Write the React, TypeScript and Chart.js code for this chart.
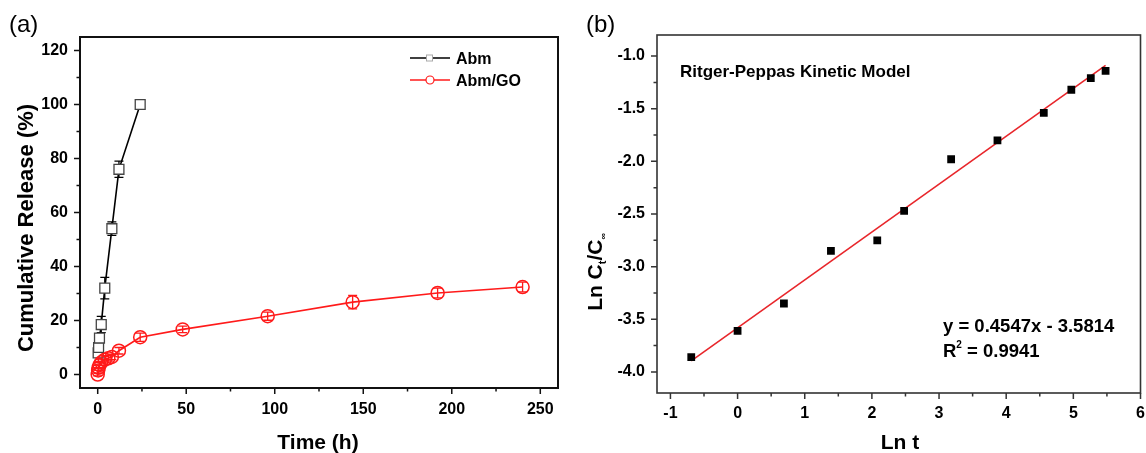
import React, { useEffect, useRef } from "react";
import { Chart, registerables } from "chart.js";

Chart.register(...registerables);

const FONT = "'Liberation Sans', Arial, Helvetica, sans-serif";

// ---------- Panel (a): cumulative release ----------
const seriesNames = ["Abm", "Abm/GO"];
const abmTime = [0.25, 0.5, 1, 2, 4, 8, 12, 24];
const abmRelease = [8, 10, 13.5, 18.5, 32, 54, 76, 100];
const abmError = [1.2, 1.2, 1.5, 3, 4, 2.5, 3, 0.5];
const goTime = [0, 0.25, 0.5, 1, 2, 4, 6, 8, 12, 24, 48, 96, 144, 192, 240];
const goRelease = [0, 1.5, 2.5, 3.5, 4.5, 5.5, 6, 6.5, 8.8, 13.8, 16.7, 21.6, 26.8, 30.2, 32.4];
const goError = [0.5, 1, 1, 1, 1.2, 1.2, 1, 1, 1.2, 1.5, 1.2, 1.5, 2.5, 1.8, 1.8];
const timeTicks = [0, 50, 100, 150, 200, 250];
const timeMinorTicks = [25, 75, 125, 175, 225];
const releaseTicks = [0, 20, 40, 60, 80, 100, 120];
const releaseMinorTicks = [10, 30, 50, 70, 90, 110];

// ---------- Panel (b): Ritger-Peppas ----------
const lnT = [-0.69, 0, 0.69, 1.39, 2.08, 2.48, 3.18, 3.87, 4.56, 4.97, 5.26, 5.48];
const lnRatio = [-3.86, -3.61, -3.35, -2.85, -2.75, -2.47, -1.98, -1.8, -1.54, -1.32, -1.21, -1.14];
const fitX = [-0.69, 5.48];
const fitY = [-3.895, -1.089];
const lnTTicks = [-1, 0, 1, 2, 3, 4, 5, 6];
const lnTMinorTicks = [-0.5, 0.5, 1.5, 2.5, 3.5, 4.5, 5.5];
const lnRatioTicks = [-4.0, -3.5, -3.0, -2.5, -2.0, -1.5, -1.0];
const lnRatioMinorTicks = [-3.75, -3.25, -2.75, -2.25, -1.75, -1.25];

type Part = { t: string; size: number; dy?: number; bold?: boolean };

function drawParts(ctx: CanvasRenderingContext2D, parts: Part[], x: number, y: number, align: "left" | "center") {
  let w = 0;
  for (const p of parts) {
    ctx.font = `${p.bold === false ? "" : "bold "}${p.size}px ${FONT}`;
    w += ctx.measureText(p.t).width;
  }
  let cx = align === "center" ? x - w / 2 : x;
  ctx.textAlign = "left";
  ctx.textBaseline = "alphabetic";
  for (const p of parts) {
    ctx.font = `${p.bold === false ? "" : "bold "}${p.size}px ${FONT}`;
    ctx.fillText(p.t, cx, y + (p.dy || 0));
    cx += ctx.measureText(p.t).width;
  }
}

type PanelCfg = {
  xMajor: number[];
  xMinor: number[];
  yMajor: number[];
  yMinor: number[];
  frameWidth: number;
  frameColor: string;
  errors?: { dataset: number; err: number[]; color: string }[];
  extra: (ctx: CanvasRenderingContext2D, chart: any) => void;
};

function panelPlugin(cfg: PanelCfg) {
  return {
    id: "panelDecor",
    beforeDatasetsDraw(chart: any) {
      if (!cfg.errors) return;
      const ctx = chart.ctx as CanvasRenderingContext2D;
      const xs = chart.scales.x;
      const ys = chart.scales.y;
      ctx.save();
      for (const e of cfg.errors) {
        const data = chart.data.datasets[e.dataset].data as { x: number; y: number }[];
        ctx.strokeStyle = e.color;
        ctx.lineWidth = 1.3;
        data.forEach((d, i) => {
          const px = xs.getPixelForValue(d.x);
          const y1 = ys.getPixelForValue(d.y - e.err[i]);
          const y2 = ys.getPixelForValue(d.y + e.err[i]);
          ctx.beginPath();
          ctx.moveTo(px, y1);
          ctx.lineTo(px, y2);
          ctx.moveTo(px - 4.5, y1);
          ctx.lineTo(px + 4.5, y1);
          ctx.moveTo(px - 4.5, y2);
          ctx.lineTo(px + 4.5, y2);
          ctx.stroke();
        });
      }
      ctx.restore();
    },
    afterDraw(chart: any) {
      const ctx = chart.ctx as CanvasRenderingContext2D;
      const a = chart.chartArea;
      const xs = chart.scales.x;
      const ys = chart.scales.y;
      ctx.save();
      ctx.strokeStyle = cfg.frameColor;
      ctx.lineWidth = cfg.frameWidth;
      ctx.strokeRect(a.left, a.top, a.right - a.left, a.bottom - a.top);
      ctx.lineWidth = 1.5;
      ctx.beginPath();
      for (const v of cfg.xMajor) {
        const p = xs.getPixelForValue(v);
        ctx.moveTo(p, a.bottom);
        ctx.lineTo(p, a.bottom + 6);
      }
      for (const v of cfg.xMinor) {
        const p = xs.getPixelForValue(v);
        ctx.moveTo(p, a.bottom);
        ctx.lineTo(p, a.bottom + 3.5);
      }
      for (const v of cfg.yMajor) {
        const p = ys.getPixelForValue(v);
        ctx.moveTo(a.left, p);
        ctx.lineTo(a.left - 6, p);
      }
      for (const v of cfg.yMinor) {
        const p = ys.getPixelForValue(v);
        ctx.moveTo(a.left, p);
        ctx.lineTo(a.left - 3.5, p);
      }
      ctx.stroke();
      ctx.fillStyle = "#000";
      cfg.extra(ctx, chart);
      ctx.restore();
    },
  };
}

function tickFont() {
  return { family: FONT, size: 16, weight: "bold" as const };
}

function makeScales(
  xMin: number, xMax: number, xTicks: number[], xHeight: number, xPad: number,
  yMin: number, yMax: number, yTicks: number[], yWidth: number, yPad: number,
  yFmt: (v: number) => string
) {
  return {
    x: {
      type: "linear" as const,
      min: xMin,
      max: xMax,
      afterBuildTicks: (s: any) => {
        s.ticks = xTicks.map((v) => ({ value: v }));
      },
      afterFit: (s: any) => {
        s.height = xHeight;
        s.paddingLeft = 0;
        s.paddingRight = 0;
      },
      grid: { display: false, drawTicks: false },
      border: { display: false },
      ticks: { padding: xPad, color: "#000", font: tickFont(), maxRotation: 0, autoSkip: false },
    },
    y: {
      type: "linear" as const,
      min: yMin,
      max: yMax,
      afterBuildTicks: (s: any) => {
        s.ticks = yTicks.map((v) => ({ value: v }));
      },
      afterFit: (s: any) => {
        s.width = yWidth;
        s.paddingTop = 0;
        s.paddingBottom = 0;
      },
      grid: { display: false, drawTicks: false },
      border: { display: false },
      ticks: {
        padding: yPad,
        color: "#000",
        font: tickFont(),
        autoSkip: false,
        callback: (v: any) => yFmt(Number(v)),
      },
    },
  };
}

function PanelA() {
  const ref = useRef<HTMLCanvasElement>(null);
  useEffect(() => {
    if (!ref.current) return;
    const chart = new Chart(ref.current, {
      type: "scatter",
      data: {
        datasets: [
          {
            label: seriesNames[1],
            data: goTime.map((t, i) => ({ x: t, y: goRelease[i] })),
            showLine: true,
            borderColor: "#ff1a1a",
            borderWidth: 1.6,
            pointStyle: "circle",
            pointRadius: 6.5,
            pointBorderWidth: 1.5,
            pointBorderColor: "#ff1a1a",
            pointBackgroundColor: "rgba(255,255,255,0)",
          },
          {
            label: seriesNames[0],
            data: abmTime.map((t, i) => ({ x: t, y: abmRelease[i] })),
            showLine: true,
            borderColor: "#000",
            borderWidth: 1.6,
            pointStyle: "rect",
            pointRadius: 7,
            pointBorderWidth: 1.3,
            pointBorderColor: "#444",
            pointBackgroundColor: "#fff",
          },
        ],
      },
      options: {
        responsive: false,
        animation: false,
        devicePixelRatio: 1,
        layout: { padding: { left: 0, right: 15, top: 37, bottom: 0 } },
        plugins: { legend: { display: false }, tooltip: { enabled: false } },
        scales: makeScales(-10, 260, timeTicks, 65, 12, -5, 125, releaseTicks, 80, 12, (v) => String(v)) as any,
      },
      plugins: [
        panelPlugin({
          xMajor: timeTicks,
          xMinor: timeMinorTicks,
          yMajor: releaseTicks,
          yMinor: releaseMinorTicks,
          frameWidth: 2,
          frameColor: "#111",
          errors: [
            { dataset: 1, err: abmError, color: "#000" },
            { dataset: 0, err: goError, color: "#ff1a1a" },
          ],
          extra: (ctx) => {
            // panel label
            ctx.font = `24px ${FONT}`;
            ctx.textAlign = "left";
            ctx.textBaseline = "middle";
            ctx.fillText("(a)", 9, 25);
            // axis titles
            drawParts(ctx, [{ t: "Time (h)", size: 21 }], 318, 449, "center");
            ctx.save();
            ctx.translate(25, 228);
            ctx.rotate(-Math.PI / 2);
            drawParts(ctx, [{ t: "Cumulative Release (%)", size: 22 }], 0, 8, "center");
            ctx.restore();
            // legend
            const rows = [
              { name: seriesNames[0], y: 58, color: "#000", marker: "rect" },
              { name: seriesNames[1], y: 80, color: "#ff1a1a", marker: "circle" },
            ];
            for (const r of rows) {
              ctx.strokeStyle = r.color;
              ctx.lineWidth = 1.6;
              ctx.beginPath();
              ctx.moveTo(410, r.y);
              ctx.lineTo(450, r.y);
              ctx.stroke();
              ctx.fillStyle = "#fff";
              if (r.marker === "rect") {
                ctx.fillRect(426, r.y - 3.5, 7, 7);
                ctx.strokeStyle = "#aaa";
                ctx.lineWidth = 1;
                ctx.strokeRect(426.5, r.y - 3, 6, 6);
              } else {
                ctx.beginPath();
                ctx.arc(430, r.y, 4, 0, Math.PI * 2);
                ctx.fill();
                ctx.strokeStyle = r.color;
                ctx.lineWidth = 1.2;
                ctx.stroke();
              }
              ctx.fillStyle = "#000";
              drawParts(ctx, [{ t: r.name, size: 16 }], 456, r.y + 6, "left");
            }
          },
        }) as any,
      ],
    });
    return () => chart.destroy();
  }, []);
  return <canvas ref={ref} width={573} height={453} style={{ display: "block" }} />;
}

function PanelB() {
  const ref = useRef<HTMLCanvasElement>(null);
  useEffect(() => {
    if (!ref.current) return;
    const chart = new Chart(ref.current, {
      type: "scatter",
      data: {
        datasets: [
          {
            label: "data",
            data: lnT.map((x, i) => ({ x, y: lnRatio[i] })),
            showLine: false,
            pointStyle: "rect",
            pointRadius: 5.5,
            pointBorderWidth: 0,
            pointBackgroundColor: "#000",
            pointBorderColor: "#000",
          },
          {
            label: "fit",
            data: fitX.map((x, i) => ({ x, y: fitY[i] })),
            showLine: true,
            borderColor: "#e8262b",
            borderWidth: 1.6,
            pointRadius: 0,
          },
        ],
      },
      options: {
        responsive: false,
        animation: false,
        devicePixelRatio: 1,
        layout: { padding: { left: 0, right: 3, top: 35, bottom: 0 } },
        plugins: { legend: { display: false }, tooltip: { enabled: false } },
        scales: makeScales(-1.2, 6, lnTTicks, 60, 11, -4.2, -0.8, lnRatioTicks, 84, 12, (v) => v.toFixed(1)) as any,
      },
      plugins: [
        panelPlugin({
          xMajor: lnTTicks,
          xMinor: lnTMinorTicks,
          yMajor: lnRatioTicks,
          yMinor: lnRatioMinorTicks,
          frameWidth: 1.6,
          frameColor: "#333",
          extra: (ctx) => {
            ctx.font = `24px ${FONT}`;
            ctx.textAlign = "left";
            ctx.textBaseline = "middle";
            ctx.fillText("(b)", 13, 25);
            drawParts(ctx, [{ t: "Ritger-Peppas Kinetic Model", size: 17 }], 107, 77, "left");
            drawParts(ctx, [{ t: "y = 0.4547x - 3.5814", size: 18.5 }], 370, 332, "left");
            drawParts(
              ctx,
              [
                { t: "R", size: 18.5 },
                { t: "2", size: 10, dy: -9 },
                { t: " = 0.9941", size: 18.5 },
              ],
              370,
              357,
              "left"
            );
            drawParts(ctx, [{ t: "Ln t", size: 21 }], 327, 449, "center");
            ctx.save();
            ctx.translate(22, 272);
            ctx.rotate(-Math.PI / 2);
            drawParts(
              ctx,
              [
                { t: "Ln C", size: 21 },
                { t: "t", size: 11, dy: 4 },
                { t: "/C", size: 21 },
                { t: "\u221E", size: 9, dy: 4 },
              ],
              0,
              7,
              "center"
            );
            ctx.restore();
          },
        }) as any,
      ],
    });
    return () => chart.destroy();
  }, []);
  return <canvas ref={ref} width={573} height={453} style={{ display: "block" }} />;
}

export default function App() {
  return (
    <div
      style={{
        position: "fixed",
        left: 0,
        top: 0,
        width: 1146,
        height: 453,
        background: "#fff",
        overflow: "hidden",
      }}
    >
      <div style={{ position: "absolute", left: 0, top: 0, width: 573, height: 453 }}>
        <PanelA />
      </div>
      <div style={{ position: "absolute", left: 573, top: 0, width: 573, height: 453 }}>
        <PanelB />
      </div>
    </div>
  );
}
